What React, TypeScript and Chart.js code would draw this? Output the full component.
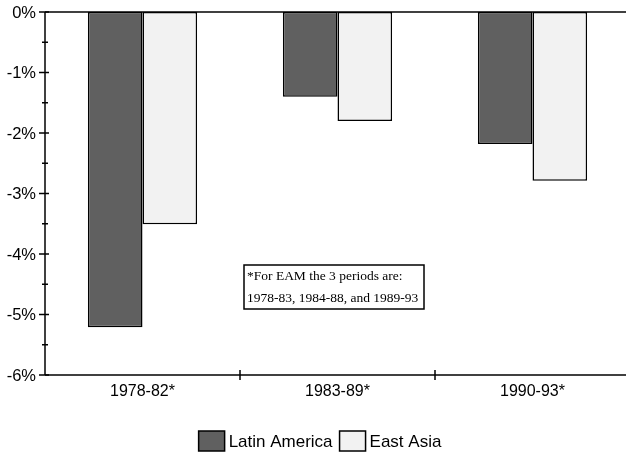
import React, { useEffect, useRef } from "react";
import { Chart, registerables } from "chart.js";

Chart.register(...registerables);

const categories = ["1978-82*", "1983-89*", "1990-93*"];
const latinAmerica = [-5.21, -1.4, -2.18];
const eastAsia = [-3.51, -1.8, -2.79];
const yTicks = [0, -1, -2, -3, -4, -5, -6];
const yMinorTicks = [-0.5, -1.5, -2.5, -3.5, -4.5, -5.5];
const noteLines = ["*For EAM the 3 periods are:", "1978-83, 1984-88, and 1989-93"];

const SANS = '"Liberation Sans", Arial, Helvetica, sans-serif';
const SERIF = '"Liberation Serif", "Times New Roman", serif';

const customAxes = {
  id: "customAxes",
  afterDatasetsDraw(chart: any) {
    const ctx = chart.ctx as CanvasRenderingContext2D;
    const area = chart.chartArea;
    const xs = chart.scales.x;
    const ys = chart.scales.y;
    const ax = area.left;
    const y0 = ys.getPixelForValue(0);
    const yb = ys.getPixelForValue(-6);
    ctx.save();
    ctx.strokeStyle = "#000";
    ctx.lineWidth = 1.5;
    ctx.beginPath();
    ctx.moveTo(ax, y0);
    ctx.lineTo(area.right, y0);
    ctx.stroke();
    ctx.beginPath();
    ctx.moveTo(ax, y0);
    ctx.lineTo(ax, yb);
    ctx.stroke();
    ctx.beginPath();
    ctx.moveTo(ax, yb);
    ctx.lineTo(area.right, yb);
    ctx.stroke();
    ctx.fillStyle = "#000";
    ctx.font = `16.5px ${SANS}`;
    ctx.textAlign = "right";
    ctx.textBaseline = "middle";
    yTicks.forEach((v) => {
      const py = ys.getPixelForValue(v);
      ctx.beginPath();
      ctx.moveTo(ax - 6, py);
      ctx.lineTo(ax + 4, py);
      ctx.stroke();
      ctx.fillText(`${v}%`, ax - 9, py + 1);
    });
    yMinorTicks.forEach((v) => {
      const py = ys.getPixelForValue(v);
      ctx.beginPath();
      ctx.moveTo(ax - 3, py);
      ctx.lineTo(ax + 3, py);
      ctx.stroke();
    });
    ctx.font = `16px ${SANS}`;
    ctx.textAlign = "center";
    ctx.textBaseline = "middle";
    categories.forEach((c, i) => {
      const cx = xs.getPixelForValue(i);
      ctx.fillText(c, cx, yb + 17);
      if (i > 0) {
        const bx = (xs.getPixelForValue(i - 1) + cx) / 2;
        ctx.beginPath();
        ctx.moveTo(bx, yb - 5);
        ctx.lineTo(bx, yb + 5);
        ctx.stroke();
      }
    });
    const bxL = 244, bxT = 265, bw = 180, bh = 44;
    ctx.lineWidth = 1.5;
    ctx.strokeRect(bxL, bxT, bw, bh);
    ctx.font = `13.5px ${SERIF}`;
    ctx.textAlign = "left";
    ctx.textBaseline = "middle";
    ctx.fillText(noteLines[0], bxL + 3, bxT + 11);
    ctx.fillText(noteLines[1], bxL + 3, bxT + 33);
    ctx.font = `17px ${SANS}`;
    const items = chart.data.datasets.map((d: any) => ({
      label: d.label,
      fill: d.backgroundColor,
      w: ctx.measureText(d.label).width,
    }));
    const boxW = 26, boxH = 20, gapText = 4, gapItem = 7;
    const total = items.reduce((s: number, it: any) => s + boxW + gapText + it.w, 0) + gapItem * (items.length - 1);
    let lx = chart.width / 2 - total / 2;
    const ly = 431;
    items.forEach((it: any) => {
      ctx.fillStyle = it.fill;
      ctx.fillRect(lx, ly, boxW, boxH);
      ctx.strokeStyle = "#000";
      ctx.lineWidth = 1.5;
      ctx.strokeRect(lx, ly, boxW, boxH);
      ctx.fillStyle = "#000";
      ctx.fillText(it.label, lx + boxW + gapText, ly + boxH / 2 + 1);
      lx += boxW + gapText + it.w + gapItem;
    });
    ctx.restore();
  },
};

export default function App() {
  const ref = useRef<HTMLCanvasElement | null>(null);
  useEffect(() => {
    if (!ref.current) return;
    const chart = new Chart(ref.current, {
      type: "bar",
      data: {
        labels: categories,
        datasets: [
          {
            label: "Latin America",
            data: latinAmerica,
            backgroundColor: "#606060",
            borderColor: "#000",
            borderWidth: 1.5,
            borderSkipped: false,
          },
          {
            label: "East Asia",
            data: eastAsia,
            backgroundColor: "#f2f2f2",
            borderColor: "#000",
            borderWidth: 1.5,
            borderSkipped: false,
          },
        ],
      },
      options: {
        responsive: false,
        animation: false,
        devicePixelRatio: 1,
        layout: { padding: { left: 45, top: 12, right: 10, bottom: 77 } },
        plugins: { legend: { display: false }, tooltip: { enabled: false } },
        datasets: { bar: { categoryPercentage: 0.56, barPercentage: 1 } },
        scales: {
          x: { display: false, offset: true },
          y: { display: false, min: -6, max: 0 },
        },
      },
      plugins: [customAxes],
    });
    return () => chart.destroy();
  }, []);
  return (
    <div style={{ position: "absolute", left: 0, top: 0, width: 626, height: 452, overflow: "hidden", background: "#fff" }}>
      <canvas ref={ref} width={640} height={452} style={{ display: "block" }} />
    </div>
  );
}
